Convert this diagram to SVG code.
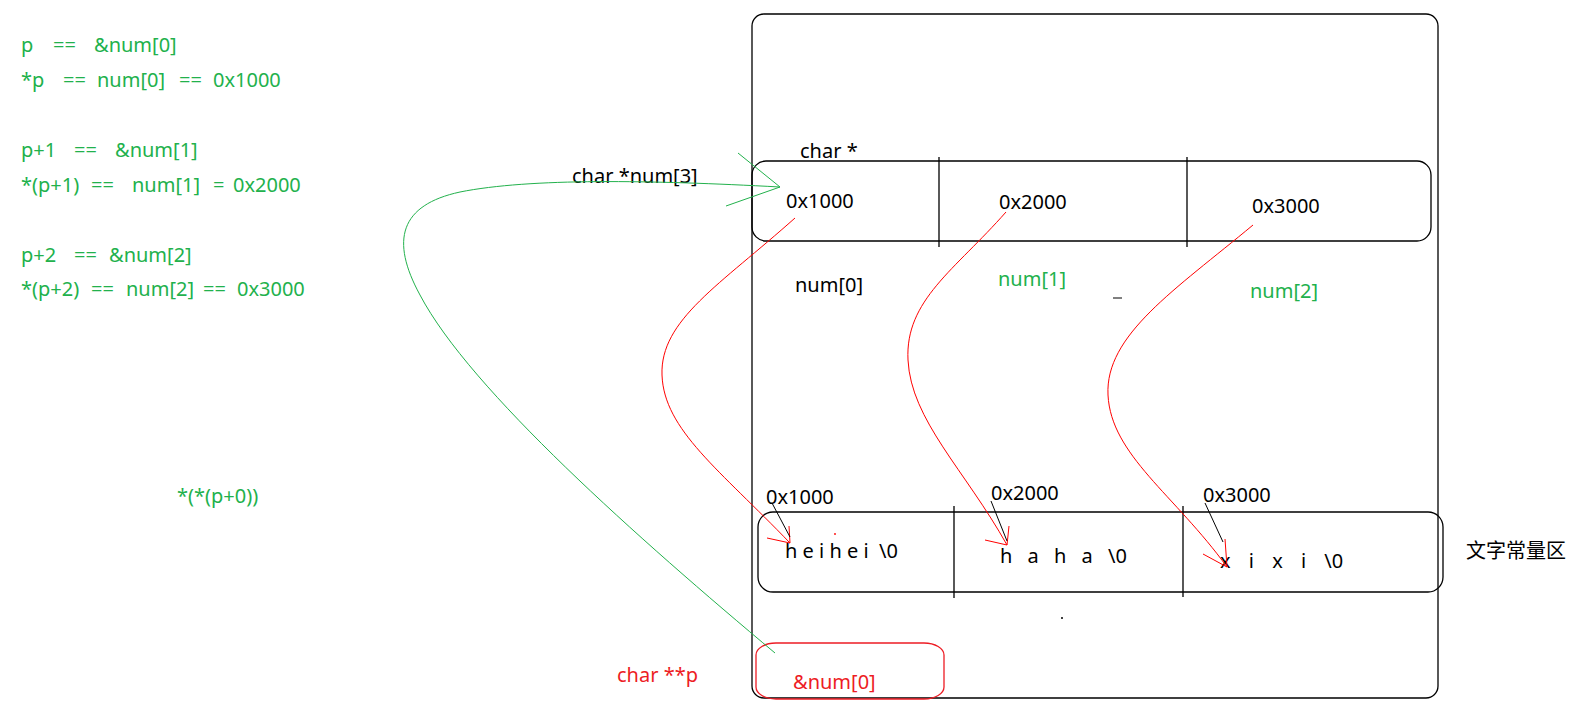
<svg xmlns="http://www.w3.org/2000/svg" width="1580" height="725" viewBox="0 0 1580 725">
<style>
text { font-family: "Noto Sans", "Liberation Sans", "Noto Sans CJK SC", sans-serif; font-size: 20px; }
.cjk { font-family: "Noto Sans CJK SC", "Noto Sans", sans-serif; }
.g { fill: #22b14c; }
.r { fill: #ed1c24; }
.k { fill: #000000; }
.box { fill: none; stroke: #000000; stroke-width: 1.3; }
.div { stroke: #000000; stroke-width: 1.3; fill: none; }
.red { fill: none; stroke: #ff0000; stroke-width: 1; }
.grn { fill: none; stroke: #22b14c; stroke-width: 1; }
.lead { fill: none; stroke: #000000; stroke-width: 1; }
</style>
<rect x="0" y="0" width="1580" height="725" fill="#ffffff"/>

<g id="equations">
  <text class="g" x="21" y="52">p <tspan x="53">== </tspan><tspan x="94">&amp;num[0]</tspan></text>
  <text class="g" x="21" y="87">*p <tspan x="63">== </tspan><tspan x="97">num[0] </tspan><tspan x="179">== </tspan><tspan x="213">0x1000</tspan></text>
  <text class="g" x="21" y="157">p+1 <tspan x="74">== </tspan><tspan x="115">&amp;num[1]</tspan></text>
  <text class="g" x="21" y="192">*(p+1) <tspan x="91">== </tspan><tspan x="132">num[1] </tspan><tspan x="213">= </tspan><tspan x="233">0x2000</tspan></text>
  <text class="g" x="21" y="262">p+2 <tspan x="74">== </tspan><tspan x="109">&amp;num[2]</tspan></text>
  <text class="g" x="21" y="296">*(p+2) <tspan x="91">== </tspan><tspan x="126">num[2] </tspan><tspan x="203">== </tspan><tspan x="237">0x3000</tspan></text>
  <text class="g" x="177" y="503">*(*(p+0))</text>
</g>

<g id="memory">
  <rect class="box" x="752" y="14" width="686" height="684" rx="12" ry="12"/>
</g>

<g id="pointer-array">
  <rect class="box" x="752" y="161" width="679" height="80" rx="14" ry="14"/>
  <path class="div" d="M939,157 V247 M1187,157 V247"/>
  <text class="k" x="800" y="158">char *</text>
  <text class="k" x="572" y="183">char *num[3]</text>
  <text class="k" x="786" y="208">0x1000</text>
  <text class="k" x="999" y="209">0x2000</text>
  <text class="k" x="1252" y="213">0x3000</text>
  <text class="k" x="795" y="292">num[0]</text>
  <text class="g" x="998" y="286">num[1]</text>
  <text class="g" x="1250" y="298">num[2]</text>
  <path class="lead" d="M1113,298 H1122"/>
</g>

<g id="string-constants">
  <rect class="box" x="758" y="512" width="685" height="80" rx="15" ry="15"/>
  <path class="div" d="M954,506 V598 M1183,506 V597"/>
  <text class="k" x="766" y="504">0x1000</text>
  <text class="k" x="991" y="500">0x2000</text>
  <text class="k" x="1203" y="502">0x3000</text>
  <text class="k" x="785" y="558" xml:space="preserve">h e i h e i  \0</text>
  <text class="k" x="1000" y="563" word-spacing="10">h a h a \0</text>
  <text class="k" x="1220" y="568" word-spacing="13">x i x i \0</text>
  <text class="k cjk" x="1466" y="558">文字常量区</text>
  <circle cx="835" cy="534" r="0.9" fill="#ff0000"/>
  <circle cx="1062" cy="618" r="1" fill="#000000"/>
</g>

<g id="pointer-p">
  <rect x="756" y="643" width="188" height="56" rx="20" ry="12" fill="none" stroke="#ed1c24" stroke-width="1.3"/>
  <text class="r" x="793" y="689">&amp;num[0]</text>
  <text class="r" x="617" y="682">char **p</text>
</g>

<g id="connectors">
  <path class="grn" d="M775,653 C640,540 470,390 420,295 C390,240 400,205 460,192 C530,178 650,180 780,187"/>
  <path class="grn" d="M738,153 L780,187 L726,206"/>

  <path class="red" d="M795,218 C720,285 660,320 662,375 C664,430 720,470 790,543"/>
  <path class="red" d="M767,538 L790,543 L789,526"/>
  <path class="red" d="M1006,212 C955,270 905,300 908,360 C911,420 965,470 1007,545"/>
  <path class="red" d="M985,540 L1007,545 L1009,526"/>
  <path class="red" d="M1253,225 C1175,290 1105,335 1108,395 C1111,455 1175,495 1227,567"/>
  <path class="red" d="M1203,554 L1227,567 L1225,539"/>

  <path class="lead" d="M772,503 L790,537"/>
  <path class="lead" d="M991,501 L1007,541"/>
  <path class="lead" d="M1205,503 L1223,542"/>
</g>
</svg>
